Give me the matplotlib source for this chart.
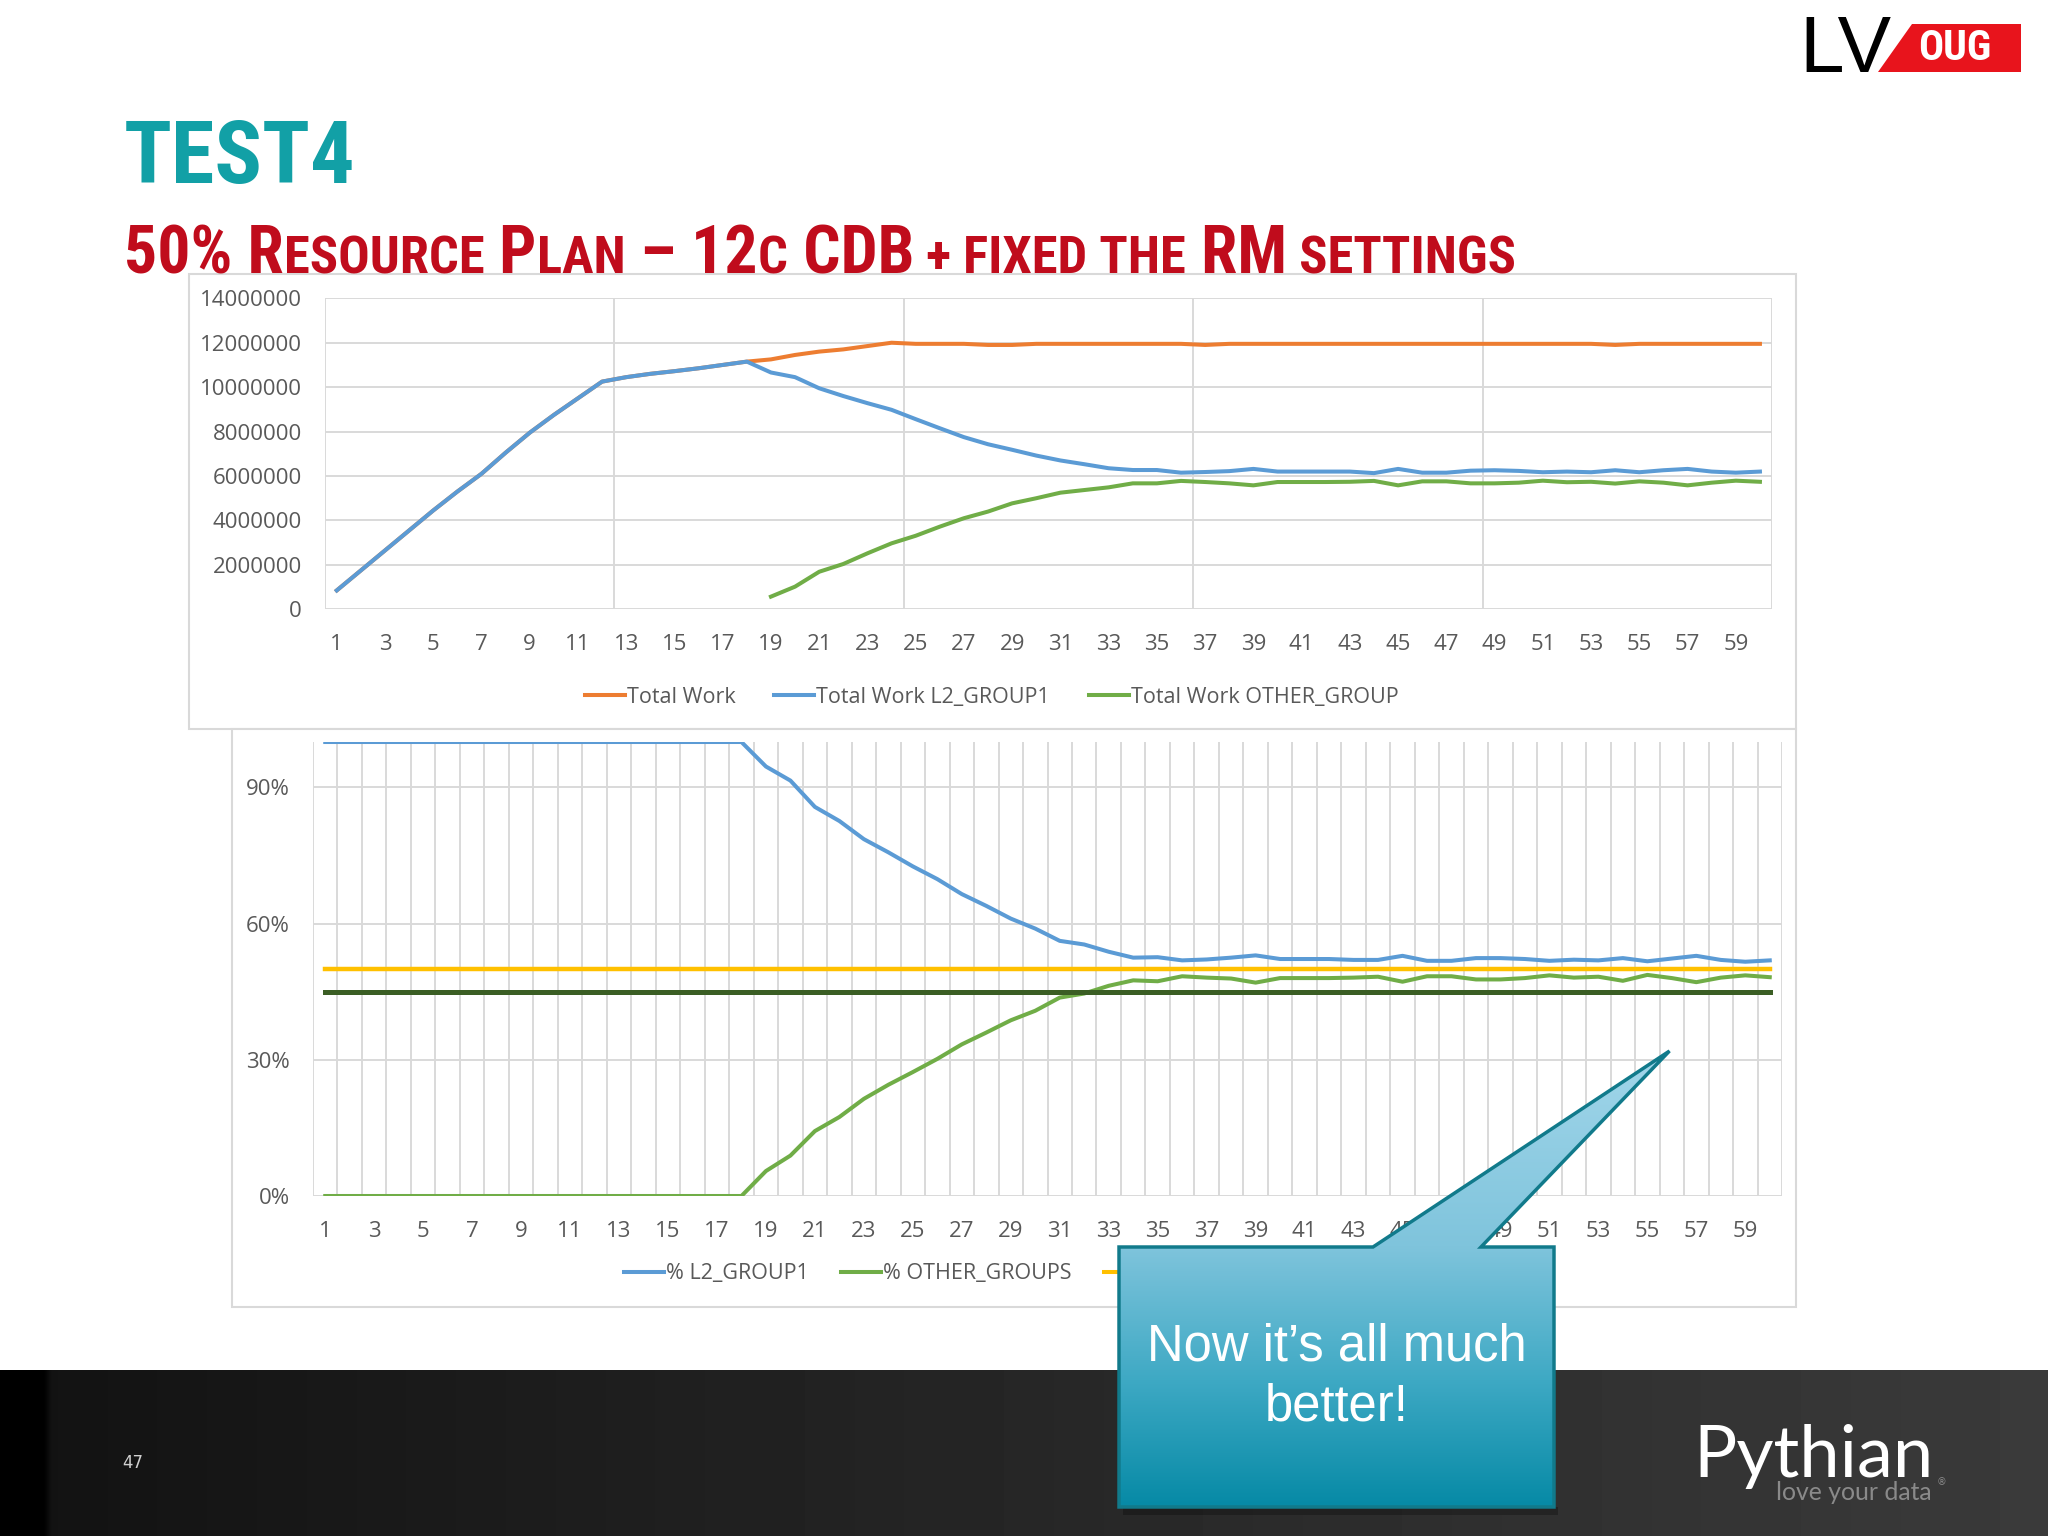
import matplotlib
matplotlib.use("Agg")
import matplotlib.pyplot as plt
import matplotlib.font_manager as fm
from matplotlib.colors import LinearSegmentedColormap
from matplotlib.lines import Line2D
from matplotlib.patches import Polygon, Rectangle
from matplotlib.ticker import FuncFormatter
import numpy as np

W, H = 2048, 1536
nan = float("nan")

# ---- data -------------------------------------------------------------
intervals = list(range(1, 61))
x_labels = list(range(1, 61, 2))

# top chart (values in millions)
total_work = [0.85, 1.75, 2.65, 3.55, 4.45, 5.3, 6.1, 7.05, 7.95, 8.75, 9.5, 10.25,
              10.45, 10.6, 10.72, 10.85, 11.0, 11.15,
              11.25, 11.45, 11.6, 11.7, 11.85, 12.0, 11.95, 11.95, 11.95, 11.9, 11.9, 11.95,
              11.95, 11.95, 11.95, 11.95, 11.95, 11.95, 11.9, 11.95, 11.95, 11.95,
              11.95, 11.95, 11.95, 11.95, 11.95, 11.95, 11.95, 11.95, 11.95, 11.95,
              11.95, 11.95, 11.95, 11.9, 11.95, 11.95, 11.95, 11.95, 11.95, 11.95]
l2_work = [0.85, 1.75, 2.65, 3.55, 4.45, 5.3, 6.1, 7.05, 7.95, 8.75, 9.5, 10.25,
           10.45, 10.6, 10.72, 10.85, 11.0, 11.15,
           10.66, 10.45, 9.95, 9.6, 9.28, 8.98, 8.56, 8.15, 7.75, 7.43, 7.18, 6.92,
           6.7, 6.53, 6.35, 6.27, 6.27, 6.15, 6.18, 6.22, 6.32, 6.2,
           6.2, 6.2, 6.2, 6.13, 6.32, 6.15, 6.15, 6.24, 6.26, 6.23,
           6.17, 6.2, 6.17, 6.26, 6.17, 6.26, 6.32, 6.2, 6.15, 6.2]
other_work = [nan, nan, nan, nan, nan, nan, nan, nan, nan, nan, nan, nan,
              nan, nan, nan, nan, nan, nan,
              0.57, 1.02, 1.69, 2.04, 2.52, 2.97, 3.31, 3.72, 4.1, 4.4, 4.77, 5.0,
              5.25, 5.37, 5.49, 5.67, 5.67, 5.78, 5.73, 5.67, 5.58, 5.73,
              5.73, 5.73, 5.74, 5.78, 5.58, 5.76, 5.76, 5.67, 5.67, 5.7,
              5.79, 5.72, 5.74, 5.66, 5.76, 5.7, 5.58, 5.7, 5.79, 5.74]
work_names = ["Total Work", "Total Work L2_GROUP1", "Total Work OTHER_GROUP"]
work_ticks = [0, 2, 4, 6, 8, 10, 12, 14]

# bottom chart (percent)
l2_pct = [100, 100, 100, 100, 100, 100, 100, 100, 100, 100, 100, 100,
          100, 100, 100, 100, 100, 100,
          94.6, 91.5, 85.7, 82.6, 78.6, 75.7, 72.6, 69.8, 66.5, 63.9, 61.1, 58.9,
          56.2, 55.4, 53.8, 52.5, 52.6, 51.9, 52.1, 52.5, 53.0, 52.2,
          52.2, 52.2, 52.0, 52.0, 52.9, 51.8, 51.8, 52.4, 52.4, 52.2,
          51.8, 52.05, 51.9, 52.4, 51.7, 52.3, 52.9, 52.0, 51.6, 51.9]
other_pct = [0, 0, 0, 0, 0, 0, 0, 0, 0, 0, 0, 0,
             0, 0, 0, 0, 0, 0,
             5.5, 8.9, 14.3, 17.4, 21.4, 24.5, 27.3, 30.2, 33.4, 36.0, 38.7, 40.8,
             43.7, 44.6, 46.3, 47.5, 47.3, 48.4, 48.1, 47.9, 47.0, 48.0,
             48.0, 48.0, 48.1, 48.3, 47.2, 48.4, 48.4, 47.7, 47.7, 48.0,
             48.6, 48.1, 48.3, 47.4, 48.7, 48.0, 47.1, 48.1, 48.6, 48.2]
limit_pct = [50] * 60
target_pct = [45] * 60
pct_names = ["% L2_GROUP1", "% OTHER_GROUPS", "% LIMIT", "% TARGET"]
pct_ticks = [0, 30, 60, 90]

# ---- styles -----------------------------------------------------------
ORANGE, BLUE, GREEN = "#ED7D31", "#5B9BD5", "#70AD47"
YELLOW, DKGREEN = "#FFC000", "#3B5E24"
GRID = "#D9D9D9"
TXT = "#595959"
CHART_FONT = "Open Sans"

names = {f.name for f in fm.fontManager.ttflist}
narrow, stretch = "DejaVu Sans", "normal"
for n in ["Roboto Condensed", "Liberation Sans Narrow", "Open Sans Condensed", "DejaVu Sans Condensed"]:
    if n in names:
        narrow = n
        break
else:
    if any(f.name == "DejaVu Sans" and str(f.stretch) == "condensed" for f in fm.fontManager.ttflist):
        stretch = "condensed"


def box(x0, y0, x1, y1):
    return [x0 / W, 1 - y1 / H, (x1 - x0) / W, (y1 - y0) / H]


fig = plt.figure(figsize=(W / 100, H / 100), dpi=100, facecolor="white")
bg = fig.add_axes([0, 0, 1, 1], zorder=0)
bg.axis("off")
bg.set_autoscale_on(False)
bg.set_xlim(0, W)
bg.set_ylim(H, 0)
fg = fig.add_axes([0, 0, 1, 1], zorder=10)
fg.axis("off")
fg.set_autoscale_on(False)
fg.set_xlim(0, W)
fg.set_ylim(H, 0)
renderer = fig.canvas.get_renderer()

# chart frames
bg.add_patch(Rectangle((189, 274), 1607, 455, facecolor="white", edgecolor=GRID, lw=1.5))
bg.add_patch(Rectangle((232, 729), 1564, 578, facecolor="white", edgecolor=GRID, lw=1.5))

# footer band
shade = np.linspace(0.07, 0.23, 256)
shade[:6] = 0.0
bg.imshow(shade[None, :], cmap="gray", vmin=0, vmax=1, extent=(0, W, H, 1370),
          aspect="auto", interpolation="bilinear")
bg.text(133, 1463, "47", color="#d0d0d0", fontsize=12, ha="center", va="center")


def fit_text(ax, x, y, s, width, size, maxsize=None, **kw):
    t = ax.text(x, y, s, fontsize=size, **kw)
    w = t.get_window_extent(renderer).width
    new = size * width / w
    if maxsize is not None:
        new = min(new, maxsize)
    t.set_fontsize(new)
    return t


# title
fit_text(bg, 124, 183, "TEST4", 232, 60, maxsize=70, color="#12A0A6", fontweight="bold",
         family=narrow, fontstretch=stretch, va="baseline")

# small caps subtitle
sub_parts = [("50% R", True), ("ESOURCE", False), (" P", True), ("LAN", False), (" \u2013 12", True),
             ("C", False), (" CDB", True), (" + FIXED THE", False), (" RM", True), (" SETTINGS", False)]


def smallcaps(scale):
    arts, prev = [], None
    for s, big in sub_parts:
        size = scale * (1.0 if big else 0.8)
        kw = dict(fontsize=size, color="#C00C1C", fontweight="bold", family=narrow,
                  fontstretch=stretch, va="baseline", ha="left")
        if prev is None:
            t = bg.text(124, 273, s, **kw)
        else:
            t = bg.annotate(s, xy=(1, 273), xycoords=(prev, "data"), **kw)
        arts.append(t)
        prev = t
    return arts


parts = smallcaps(40)
span = parts[-1].get_window_extent(renderer).x1 - parts[0].get_window_extent(renderer).x0
for p in parts:
    p.remove()
smallcaps(min(40 * 1391 / span, 48))

# LV OUG logo
fit_text(bg, 1799, 72, "LV", 92, 40, family="Liberation Sans", color="black", va="baseline")
bg.add_patch(Polygon([(1912, 24), (2021, 24), (2021, 72), (1878, 72)], closed=True,
                     facecolor="#E8141C", edgecolor="none"))
fit_text(bg, 1955, 49, "OUG", 100, 24, maxsize=30, family=narrow, fontstretch=stretch,
         fontweight="bold", color="white", ha="center", va="center")

# Pythian logo
fit_text(bg, 1693, 1477, "Pythian", 240, 50, family="Lato", color="white", va="baseline")
fit_text(bg, 1932, 1500, "love your data", 156, 15, family="Lato", color="#8a8a8a",
         ha="right", va="baseline")
bg.text(1937, 1482, "\u00ae", fontsize=7, color="#8a8a8a", ha="left", va="center")


def style_axis(ax):
    for s in ax.spines.values():
        s.set_visible(False)
    ax.set_facecolor("none")
    ax.set_axisbelow(True)
    ax.set_xlim(0.5, 60.5)
    ax.set_xticks(x_labels)
    ax.tick_params(which="both", length=0, labelsize=16, labelcolor=TXT, pad=16.5)
    ax.tick_params(axis="x", pad=18)
    ax.yaxis.grid(True, color=GRID, lw=1.4)
    ax.xaxis.grid(True, which="minor", color=GRID, lw=1.4)
    for lab in ax.get_xticklabels() + ax.get_yticklabels():
        lab.set_family(CHART_FONT)


# ---- top chart --------------------------------------------------------
ax1 = fig.add_axes(box(324.7, 298.3, 1772, 609.3), zorder=2)
x = np.array(intervals)
ax1.plot(x, np.array(total_work) * 1e6, color=ORANGE, lw=2.9, solid_joinstyle="round")
ax1.plot(x, np.array(l2_work) * 1e6, color=BLUE, lw=2.9, solid_joinstyle="round")
ax1.plot(x, np.array(other_work) * 1e6, color=GREEN, lw=2.9, solid_joinstyle="round")
ax1.set_ylim(0, 14e6)
ax1.set_yticks([v * 1e6 for v in work_ticks])
ax1.yaxis.set_major_formatter(FuncFormatter(lambda v, p: f"{int(round(v))}"))
ax1.set_xticks([0.5, 12.5, 24.5, 36.5, 48.5, 60.5], minor=True)
style_axis(ax1)

h1 = [Line2D([], [], color=c, lw=2.9) for c in (ORANGE, BLUE, GREEN)]
fig.legend(h1, work_names, loc="center left", bbox_to_anchor=(585 / W, 1 - 697 / H), ncol=3,
           frameon=False, prop={"family": CHART_FONT, "size": 15.5}, labelcolor=TXT,
           handlelength=1.85, handletextpad=0.1, columnspacing=1.8, borderpad=0, borderaxespad=0)

# ---- bottom chart -----------------------------------------------------
ax2 = fig.add_axes(box(313, 742, 1782, 1196), zorder=2)
ax2.plot(x, l2_pct, color=BLUE, lw=2.9, solid_joinstyle="round")
ax2.plot(x, other_pct, color=GREEN, lw=2.9, solid_joinstyle="round")
ax2.plot(x, limit_pct, color=YELLOW, lw=3.2)
ax2.plot(x, target_pct, color=DKGREEN, lw=3.6)
ax2.set_ylim(0, 100)
ax2.set_yticks(pct_ticks)
ax2.yaxis.set_major_formatter(FuncFormatter(lambda v, p: f"{int(v)}%"))
ax2.set_xticks(np.arange(0.5, 61, 1), minor=True)
style_axis(ax2)

h2 = [Line2D([], [], color=c, lw=2.9) for c in (BLUE, GREEN, YELLOW, DKGREEN)]
fig.legend(h2, pct_names, loc="center left", bbox_to_anchor=(624 / W, 1 - 1274 / H), ncol=4,
           frameon=False, prop={"family": CHART_FONT, "size": 15.5}, labelcolor=TXT,
           handlelength=1.85, handletextpad=0.1, columnspacing=1.5, borderpad=0, borderaxespad=0)

# ---- callout ----------------------------------------------------------
verts = [(1119, 1247), (1373, 1247), (1669.5, 1051), (1481, 1247), (1554, 1247),
         (1554, 1507), (1119, 1507)]
cmap = LinearSegmentedColormap.from_list(
    "callout", [(0, "#a2d6ea"), (0.43, "#7fc4dc"), (0.72, "#3ea9c4"), (1, "#0589a5")])
# soft shadow under the box
fg.add_patch(Rectangle((1123, 1507), 435, 8, facecolor="black", alpha=0.25, edgecolor="none"))
shape = Polygon(verts, closed=True, facecolor="none", edgecolor="none", transform=fg.transData)
fg.add_patch(shape)
im = fg.imshow(np.linspace(0, 1, 256)[:, None], cmap=cmap, extent=(1115, 1675, 1510, 1048),
               aspect="auto", interpolation="bilinear")
im.set_clip_path(shape)
fg.add_patch(Polygon(verts, closed=True, facecolor="none", edgecolor="#117a8b", lw=2.5,
                     joinstyle="miter"))
fg.text(1336.5, 1347, "Now it\u2019s all much", color="white", fontsize=36.5,
        family="Liberation Sans", ha="center", va="center")
fg.text(1336.5, 1407, "better!", color="white", fontsize=36.5,
        family="Liberation Sans", ha="center", va="center")
fg.set_xlim(0, W)
fg.set_ylim(H, 0)
bg.set_xlim(0, W)
bg.set_ylim(H, 0)

fig.savefig("out.png", dpi=100)
